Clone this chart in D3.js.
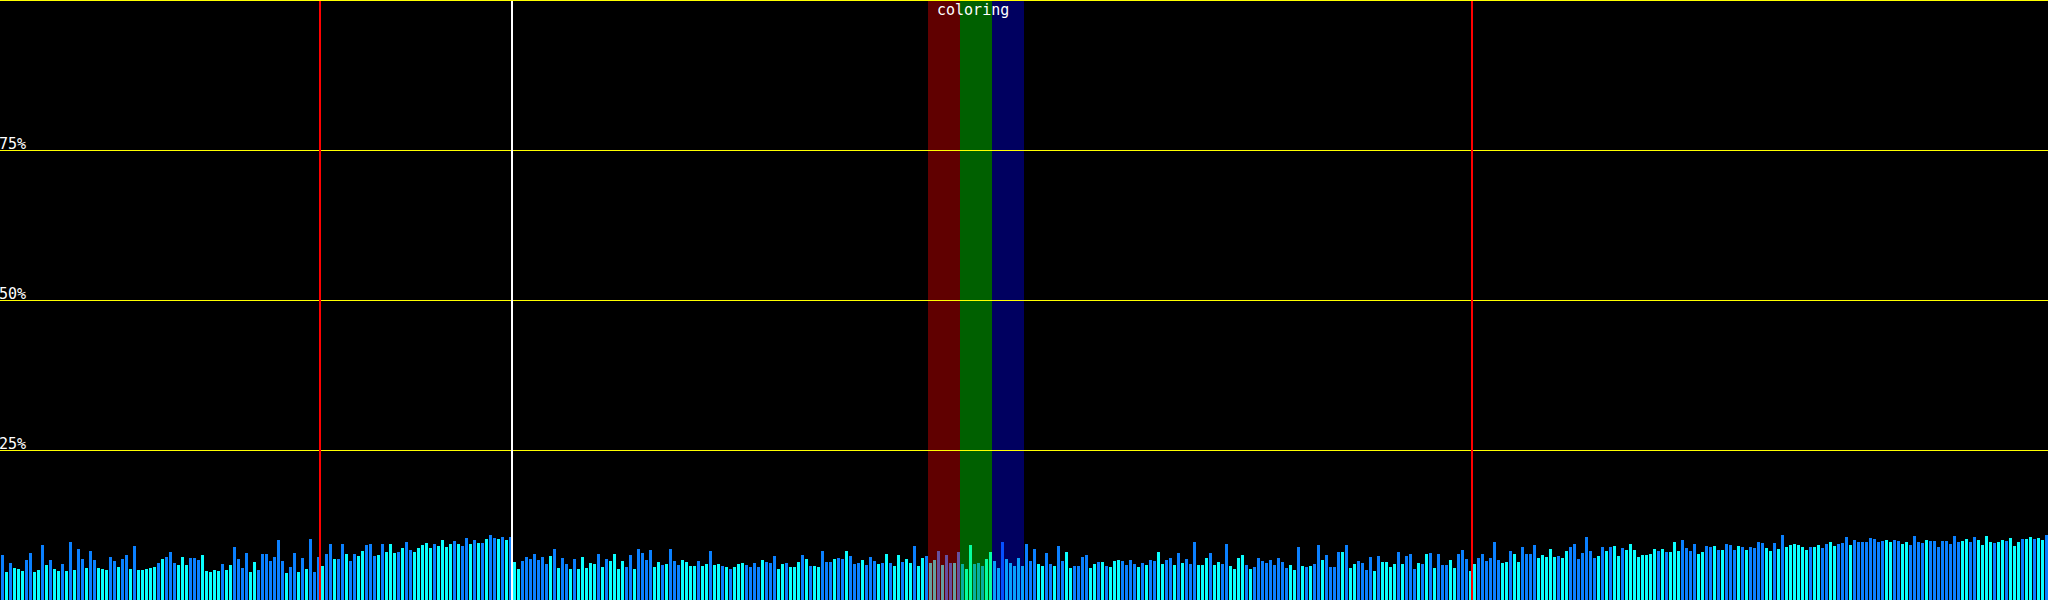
<!DOCTYPE html>
<html>
<head>
<meta charset="utf-8">
<script src="https://cdn.jsdelivr.net/npm/d3@7"></script>
<style>
  html, body { margin: 0; padding: 0; background: #000; overflow: hidden; }
  svg { display: block; }
  text { font-family: "DejaVu Sans Mono", monospace; font-size: 15px; fill: #fff; }
</style>
</head>
<body>
<div id="chart"></div>
<script>
var width = 2048;
var height = 600;

// bar heights, percent
var values = [
  7.5, 4.67, 6.17, 5.33, 5.17, 4.83, 6.67, 7.83, 4.67, 5.0,
  9.17, 5.83, 6.67, 5.17, 4.83, 6.0, 4.83, 9.67, 5.0, 8.5,
  6.83, 5.33, 8.17, 6.67, 5.33, 5.17, 5.0, 7.17, 6.5, 5.5,
  6.83, 7.5, 5.17, 9.0, 5.0, 5.0, 5.17, 5.33, 5.5, 6.17,
  6.83, 7.17, 8.0, 6.17, 5.83, 7.17, 5.83, 7.0, 7.0, 6.67,
  7.5, 4.83, 4.67, 5.0, 4.83, 6.0, 5.0, 5.83, 8.83, 6.83,
  5.33, 7.83, 4.67, 6.33, 5.0, 7.67, 7.67, 6.5, 7.17, 10.0,
  6.5, 4.5, 5.5, 7.83, 4.67, 7.0, 5.17, 10.17, 4.67, 7.17,
  5.67, 7.67, 9.33, 6.83, 6.83, 9.33, 7.67, 6.5, 7.67, 7.33,
  8.17, 9.17, 9.33, 7.33, 7.5, 9.33, 8.0, 9.33, 7.83, 8.0,
  8.67, 9.67, 8.33, 8.0, 8.67, 9.17, 9.5, 8.67, 9.33, 9.0,
  10.0, 8.83, 9.33, 9.83, 9.33, 9.0, 10.33, 9.33, 10.0, 9.5,
  9.5, 10.17, 10.83, 10.33, 10.17, 10.5, 10.0, 10.5, 6.33, 5.17,
  6.5, 7.17, 6.83, 7.67, 6.67, 7.17, 6.0, 7.33, 8.5, 5.33,
  7.0, 6.0, 5.17, 6.83, 5.17, 7.17, 5.33, 6.17, 6.0, 7.67,
  5.5, 6.83, 6.5, 7.67, 5.17, 6.5, 5.5, 7.5, 5.17, 8.5,
  7.83, 6.67, 8.33, 5.5, 6.33, 5.83, 6.0, 8.5, 6.5, 5.83,
  6.67, 6.33, 5.67, 5.67, 6.5, 5.67, 6.0, 8.17, 5.83, 6.0,
  5.67, 5.5, 5.17, 5.5, 6.0, 6.17, 5.83, 5.5, 6.17, 5.5,
  6.67, 6.33, 6.17, 7.33, 5.17, 6.0, 6.17, 5.5, 5.5, 6.33,
  7.5, 6.83, 5.67, 5.67, 5.5, 8.17, 6.33, 6.33, 6.83, 7.0,
  6.83, 8.17, 7.33, 6.0, 6.17, 6.67, 5.83, 7.17, 6.5, 6.0,
  6.17, 7.67, 6.17, 5.67, 7.5, 6.33, 6.83, 6.17, 9.0, 5.67,
  7.0, 7.33, 6.17, 6.67, 8.17, 5.83, 7.5, 6.17, 6.17, 8.0,
  6.0, 5.17, 9.17, 6.0, 6.17, 5.67, 6.83, 8.0, 6.5, 5.33,
  9.67, 6.83, 6.17, 5.67, 7.0, 5.67, 9.33, 6.5, 8.5, 6.0,
  5.67, 7.83, 6.0, 5.67, 9.0, 6.5, 8.0, 5.33, 5.67, 5.67,
  7.17, 7.5, 5.33, 6.0, 6.33, 6.33, 5.67, 5.5, 6.5, 6.67,
  6.5, 5.83, 6.67, 6.0, 5.5, 6.17, 5.83, 6.67, 6.5, 8.0,
  6.0, 6.67, 7.0, 5.83, 7.83, 6.17, 6.83, 6.0, 9.67, 5.83,
  5.83, 7.0, 7.83, 5.83, 6.33, 6.0, 9.33, 5.67, 5.17, 7.0,
  7.5, 5.83, 5.17, 5.5, 7.0, 6.5, 6.17, 6.67, 5.83, 7.0,
  6.33, 5.33, 5.83, 5.0, 8.83, 5.67, 5.5, 5.67, 6.0, 9.17,
  6.67, 7.5, 5.5, 5.5, 8.0, 8.0, 9.17, 5.33, 6.0, 6.5,
  6.17, 5.0, 7.17, 4.83, 7.33, 6.33, 6.33, 5.5, 6.0, 8.0,
  6.0, 7.33, 7.67, 5.17, 6.17, 6.0, 7.67, 7.83, 5.33, 7.67,
  5.83, 5.83, 6.67, 5.33, 7.67, 8.33, 6.83, 4.83, 6.0, 7.0,
  7.67, 6.5, 7.0, 9.67, 6.67, 6.17, 6.33, 8.17, 7.67, 6.33,
  8.83, 7.67, 7.67, 9.17, 7.0, 7.5, 7.17, 8.5, 7.17, 7.33,
  7.0, 8.17, 8.83, 9.33, 6.83, 7.83, 10.5, 8.17, 7.0, 7.33,
  8.83, 8.17, 8.83, 9.0, 7.33, 8.67, 8.33, 9.33, 8.33, 7.17,
  7.5, 7.5, 7.67, 8.5, 8.17, 8.5, 8.0, 8.0, 9.67, 8.17,
  10.0, 8.67, 8.17, 9.33, 7.67, 8.0, 9.0, 8.83, 9.0, 8.33,
  8.33, 9.33, 9.17, 8.33, 9.0, 8.83, 8.33, 8.83, 8.67, 9.67,
  9.5, 8.67, 8.17, 9.5, 8.5, 10.83, 8.83, 9.17, 9.33, 9.17,
  8.83, 8.33, 8.83, 8.83, 9.17, 8.67, 9.33, 9.67, 9.0, 9.33,
  9.5, 10.5, 9.17, 10.0, 9.67, 9.67, 9.67, 10.33, 10.17, 9.67,
  9.83, 10.0, 9.67, 10.0, 9.83, 9.33, 9.67, 9.17, 10.67, 9.67,
  9.5, 10.0, 9.83, 9.83, 8.83, 9.83, 9.83, 9.33, 10.67, 9.67,
  9.83, 10.17, 9.67, 10.5, 10.0, 9.17, 10.67, 9.67, 9.5, 9.67,
  10.0, 9.83, 10.33, 9.0, 9.67, 10.17, 10.17, 10.5, 10.17, 10.33,
  10.0, 10.83
];

// bar kind per bar: B = blue, C = cyan
var kinds = (
  "BCBCCCBBCC" + "BCBCCBCBCB" + "BCBBCCCBBC" + "BBCBCCCCCB" + "CBBBCCCBBB" +
  "CCCCCBCCBB" + "BBCCBBBBBB" + "BCBBCBCBBB" + "CBBCBBCBBC" + "CBBBCBCCCB" +
  "CBBCCCCCBC" + "CCCBCBBCBC" + "BCBBCBCBCC" + "BBBBBBBCBC" + "BBCBCCCCCB" +
  "CBCCCCBBCB" + "BBBCCBCBBB" + "CCCCBCCBCC" + "BCBCCCBBBB" + "CBBBCCBCCC" +
  "BCBCCBBBCB" + "BCBBBCBBBC" + "BCBCCBCCBC" + "CBCCBCBBCB" + "BCCBBBCCCC" +
  "BCCCCCBBBC" + "CBBCBBCCBB" + "BBCCBCBCCC" + "BBBBCBCBBC" + "CBBCBCBBBC" +
  "CCBCCBBCCC" + "CBCBBBBBBB" + "BBCCBCBCBB" + "CBBBBCBCCB" + "BBBCBCCCCB" +
  "CBBBCBCBCB" + "BBCCBBBCCB" + "BBBBBCCBCC" + "BBBBCCCCCB" + "CCBBBBBBBC" +
  "BCBCCBCCCC" + "CCCCBCBCCC" + "BBBBCCBBCB" + "CBBBCBCBBB" + "BCCBCBCCCC" +
  "CCBCCBBCCB" + "BBCBBBBBBB" + "BCCBBCCBBB" + "BCBBBBBBBB" + "CCBBCCCCBC" +
  "CBCCCBCCBC" + "CB"
).split("");

var kindColor = { B: "#0a80ff", C: "#0affff" };

var ticks = [25, 50, 75];
var tickLabels = ["25%", "50%", "75%"];

// vertical markers, at bar index boundaries
var markers = [
  { at: 80, color: "#ff0000" },
  { at: 128, color: "#ffffff" },
  { at: 368, color: "#ff0000" }
];

// highlighted channel bands
var bands = [
  { from: 232, to: 240, color: "#ff0000" },
  { from: 240, to: 248, color: "#00ff00" },
  { from: 248, to: 256, color: "#0000ff" }
];
var bandLabel = "coloring";

var svg = d3
  .select("#chart")
  .append("svg")
  .attr("width", width)
  .attr("height", height)
  .attr("shape-rendering", "crispEdges");

var x = d3.scaleBand()
  .domain(d3.range(values.length))
  .range([0, width]);

var y = d3.scaleLinear()
  .domain([0, 100])
  .range([height, 0]);

svg.append("rect")
  .attr("width", width)
  .attr("height", height)
  .attr("fill", "#000");

svg.append("g")
  .selectAll("rect")
  .data(values)
  .enter()
  .append("rect")
  .attr("x", function(d, i) { return x(i) + 1; })
  .attr("width", x.bandwidth() - 1)
  .attr("y", function(d) { return Math.round(y(d)); })
  .attr("height", function(d) { return height - Math.round(y(d)); })
  .attr("fill", function(d, i) { return kindColor[kinds[i]]; });

svg.append("g")
  .selectAll("rect")
  .data(bands)
  .enter()
  .append("rect")
  .attr("x", function(d) { return x(d.from); })
  .attr("width", function(d) { return x(d.to) - x(d.from); })
  .attr("y", 0)
  .attr("height", height)
  .attr("fill", function(d) { return d.color; })
  .attr("fill-opacity", 0.375);

// grid
svg.append("g")
  .selectAll("line")
  .data(ticks.concat([100]))
  .enter()
  .append("line")
  .attr("x1", 0)
  .attr("x2", width)
  .attr("y1", function(d) { return y(d) + 0.5; })
  .attr("y2", function(d) { return y(d) + 0.5; })
  .attr("stroke", "#ffff00")
  .attr("stroke-width", 1);

svg.append("g")
  .selectAll("rect")
  .data(markers)
  .enter()
  .append("rect")
  .attr("x", function(d) { return x(d.at) - 1; })
  .attr("width", 2)
  .attr("y", 1)
  .attr("height", height - 1)
  .attr("fill", function(d) { return d.color; });

svg.append("g")
  .selectAll("text")
  .data(ticks)
  .enter()
  .append("text")
  .attr("x", -1)
  .attr("y", function(d) { return y(d) - 1; })
  .text(function(d, i) { return tickLabels[i]; });

svg.append("text")
  .attr("x", x(bands[0].from) + 9)
  .attr("y", 15)
  .text(bandLabel);
</script>
</body>
</html>
